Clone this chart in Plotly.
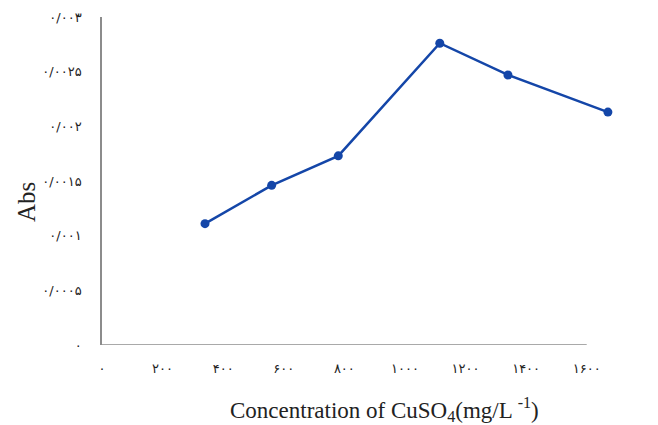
import plotly.graph_objects as go

conc = [340, 560, 780, 1115, 1340, 1670]
absorb = [0.00111, 0.00146, 0.00173, 0.00276, 0.00247, 0.00213]

x_tickvals = [0, 200, 400, 600, 800, 1000, 1200, 1400, 1600]
x_ticktext = ["۰", "۲۰۰", "۴۰۰", "۶۰۰", "۸۰۰", "۱۰۰۰", "۱۲۰۰", "۱۴۰۰", "۱۶۰۰"]
y_tickvals = [0, 0.0005, 0.001, 0.0015, 0.002, 0.0025, 0.003]
y_ticktext = ["۰", "۰/۰۰۰۵", "۰/۰۰۱", "۰/۰۰۱۵", "۰/۰۰۲", "۰/۰۰۲۵", "۰/۰۰۳"]

fig = go.Figure()
fig.add_trace(go.Scatter(
    x=conc, y=absorb, mode="lines+markers",
    line=dict(color="#1446A8", width=2.5),
    marker=dict(color="#1446A8", size=9),
    cliponaxis=False,
))

fig.add_shape(type="line", xref="x", yref="y", x0=0, x1=1600, y0=0, y1=0,
              line=dict(color="#8c8c8c", width=1.5), layer="below")

tickfont = dict(family="DejaVu Sans", size=13, color="#222222")
fig.update_layout(
    width=658, height=425,
    margin=dict(l=102, r=41, t=17, b=80, autoexpand=False),
    plot_bgcolor="white", paper_bgcolor="white",
    showlegend=False,
    xaxis=dict(range=[0, 1700], tickvals=x_tickvals, ticktext=x_ticktext,
               showgrid=False, zeroline=False, showline=False, automargin=False,
               ticks="", tickfont=tickfont, ticklabelstandoff=14),
    yaxis=dict(range=[0, 0.003], tickvals=y_tickvals, ticktext=y_ticktext,
               showgrid=False, zeroline=False, showline=True, automargin=False,
               linecolor="#8c8c8c", linewidth=1.5,
               ticks="", tickfont=tickfont, ticklabelstandoff=16),
    annotations=[
        dict(text="Concentration of CuSO<sub>4</sub>(mg/L <sup>-1</sup>)",
             xref="paper", yref="paper", x=(384.5 - 102) / 515,
             y=-(409 - 345) / 328, xanchor="center", yanchor="middle",
             showarrow=False,
             font=dict(family="Liberation Serif", size=23, color="#222222")),
        dict(text="Abs", xref="paper", yref="paper",
             x=-(102 - 27) / 515, y=(345 - 202) / 328,
             xanchor="center", yanchor="middle", textangle=-90, showarrow=False,
             font=dict(family="Liberation Serif", size=25, color="#222222")),
    ],
)

fig.write_html("out.html", config={"displayModeBar": False},
               post_script="document.body.style.margin='0';document.body.style.overflow='hidden';")
